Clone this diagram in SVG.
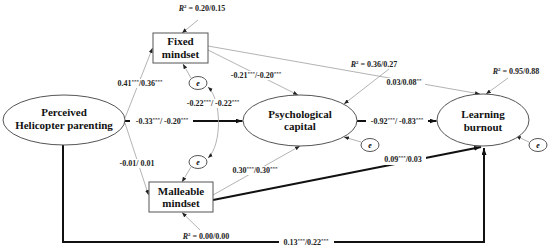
<svg xmlns="http://www.w3.org/2000/svg" width="550" height="249" viewBox="0 0 550 249">
<style>
.node{fill:#fff;stroke:#555;stroke-width:1}
.nt{font-family:"Liberation Serif","Times New Roman",serif;font-weight:bold;font-size:11px;fill:#111;text-anchor:middle}
.et{font-family:"Liberation Serif","Times New Roman",serif;font-style:italic;font-weight:bold;font-size:8px;fill:#111;text-anchor:middle}
.lb{font-family:"Liberation Serif","Times New Roman",serif;font-weight:bold;font-size:8px;fill:#222;text-anchor:middle}
.s{font-size:5px}
.thin{fill:none;stroke:#a0a0a0;stroke-width:0.8;marker-end:url(#a)}
.thick{fill:none;stroke:#111;stroke-width:2;marker-end:url(#b)}
.bg{fill:#fff}
</style>
<defs>
<marker id="a" markerUnits="userSpaceOnUse" markerWidth="5" markerHeight="4" refX="5" refY="2" orient="auto-start-reverse"><path d="M0,0 L5,2 L0,4 z" fill="#222"/></marker>
<marker id="b" markerUnits="userSpaceOnUse" markerWidth="7" markerHeight="5" refX="7" refY="2.5" orient="auto"><path d="M0,0 L7,2.5 L0,5 z" fill="#111"/></marker>
</defs>
<rect width="550" height="249" fill="#fff"/>
<g id="connectors">
<line class="thin" x1="125" y1="118" x2="152.5" y2="48"/>
<line class="thin" x1="125" y1="123" x2="148.5" y2="195"/>
<line class="thick" x1="124" y1="121" x2="242.5" y2="121"/>
<line class="thin" x1="208" y1="50" x2="298" y2="95"/>
<line class="thin" x1="208" y1="46" x2="480" y2="94"/>
<line class="thin" x1="213" y1="195" x2="300" y2="146"/>
<line class="thick" x1="213" y1="200" x2="481" y2="147"/>
<line class="thick" x1="357" y1="121" x2="436.5" y2="121"/>
<polyline class="thick" points="63,145 63,242 484,242 484,148"/>
<path class="thin" d="M208,87 C222,100 222,145 208,158" style="marker-start:url(#a)"/>
<line class="thin" x1="191" y1="78" x2="183" y2="64"/>
<line class="thin" x1="191" y1="167" x2="182" y2="182"/>
<line class="thin" x1="361" y1="142" x2="344" y2="137"/>
<line class="thin" x1="529" y1="142" x2="516" y2="136"/>
<line class="thin" x1="198" y1="20" x2="182" y2="33"/>
<line class="thin" x1="389" y1="69" x2="344" y2="104"/>
<line class="thin" x1="508" y1="78" x2="486" y2="94"/>
<line class="thin" x1="200" y1="230" x2="182" y2="212.5"/>
</g>
<g id="labels">
<rect class="bg" x="117" y="79" width="46" height="9"/>
<text class="lb" x="140" y="86">0.41<tspan class="s" dy="-3">***</tspan><tspan dy="3">/0.36</tspan><tspan class="s" dy="-3">***</tspan></text>
<rect class="bg" x="118" y="159" width="39" height="9"/>
<text class="lb" x="137" y="166">-0.01/ 0.01</text>
<rect class="bg" x="130" y="117" width="63" height="9"/>
<text class="lb" x="162" y="124">-0.33<tspan class="s" dy="-3">***</tspan><tspan dy="3">/ -0.20</tspan><tspan class="s" dy="-3">***</tspan></text>
<rect class="bg" x="186" y="99" width="55" height="9"/>
<text class="lb" x="213" y="106">-0.22<tspan class="s" dy="-3">***</tspan><tspan dy="3">/ -0.22</tspan><tspan class="s" dy="-3">***</tspan></text>
<rect class="bg" x="229" y="71" width="54" height="9"/>
<text class="lb" x="256" y="78">-0.21<tspan class="s" dy="-3">***</tspan><tspan dy="3">/-0.20</tspan><tspan class="s" dy="-3">***</tspan></text>
<rect class="bg" x="384" y="78" width="41" height="9"/>
<text class="lb" x="404" y="85">0.03/0.08<tspan class="s" dy="-3">**</tspan></text>
<rect class="bg" x="231" y="166" width="48" height="9"/>
<text class="lb" x="255" y="173">0.30<tspan class="s" dy="-3">***</tspan><tspan dy="3">/0.30</tspan><tspan class="s" dy="-3">***</tspan></text>
<rect class="bg" x="380" y="155" width="46" height="10"/>
<text class="lb" x="403" y="162">0.09<tspan class="s" dy="-3">***</tspan><tspan dy="3">/0.03</tspan></text>
<rect class="bg" x="366" y="117" width="62" height="9"/>
<text class="lb" x="397" y="124">-0.92<tspan class="s" dy="-3">***</tspan><tspan dy="3">/ -0.83</tspan><tspan class="s" dy="-3">***</tspan></text>
<rect class="bg" x="279" y="237" width="55" height="10"/>
<text class="lb" x="306" y="245">0.13<tspan class="s" dy="-3">***</tspan><tspan dy="3">/0.22</tspan><tspan class="s" dy="-3">***</tspan></text>
<text class="lb" x="202" y="11"><tspan font-style="italic">R</tspan><tspan class="s" dy="-3">2</tspan><tspan dy="3"> = 0.20/0.15</tspan></text>
<text class="lb" x="374" y="67"><tspan font-style="italic">R</tspan><tspan class="s" dy="-3">2</tspan><tspan dy="3"> = 0.36/0.27</tspan></text>
<text class="lb" x="516" y="74"><tspan font-style="italic">R</tspan><tspan class="s" dy="-3">2</tspan><tspan dy="3"> = 0.95/0.88</tspan></text>
<text class="lb" x="206" y="239"><tspan font-style="italic">R</tspan><tspan class="s" dy="-3">2</tspan><tspan dy="3"> = 0.00/0.00</tspan></text>
</g>
<g id="perceived">
<ellipse class="node" cx="64" cy="120" rx="61" ry="25"/>
<text class="nt" x="64" y="116">Perceived</text>
<text class="nt" x="64" y="129">Helicopter parenting</text>
</g>
<g id="fixed">
<rect class="node" x="153" y="33" width="55" height="30"/>
<text class="nt" x="180.5" y="45">Fixed</text>
<text class="nt" x="180.5" y="58">mindset</text>
</g>
<g id="malleable">
<rect class="node" x="149" y="182" width="64" height="30"/>
<text class="nt" x="181" y="195">Malleable</text>
<text class="nt" x="181" y="207">mindset</text>
</g>
<g id="psych">
<ellipse class="node" cx="300" cy="120.5" rx="57" ry="25.5"/>
<text class="nt" x="300" y="118">Psychological</text>
<text class="nt" x="300" y="130">capital</text>
</g>
<g id="burnout">
<ellipse class="node" cx="483" cy="120" rx="46" ry="26"/>
<text class="nt" x="483" y="118">Learning</text>
<text class="nt" x="483" y="131">burnout</text>
</g>
<g id="e1"><ellipse class="node" cx="198" cy="83" rx="9" ry="6.5"/><text class="et" x="198" y="86">e</text></g>
<g id="e2"><ellipse class="node" cx="198" cy="162" rx="9" ry="6.5"/><text class="et" x="198" y="165">e</text></g>
<g id="e3"><ellipse class="node" cx="370" cy="145" rx="9" ry="6.5"/><text class="et" x="370" y="148">e</text></g>
<g id="e4"><ellipse class="node" cx="538" cy="145" rx="9" ry="6.5"/><text class="et" x="538" y="148">e</text></g>
</svg>
